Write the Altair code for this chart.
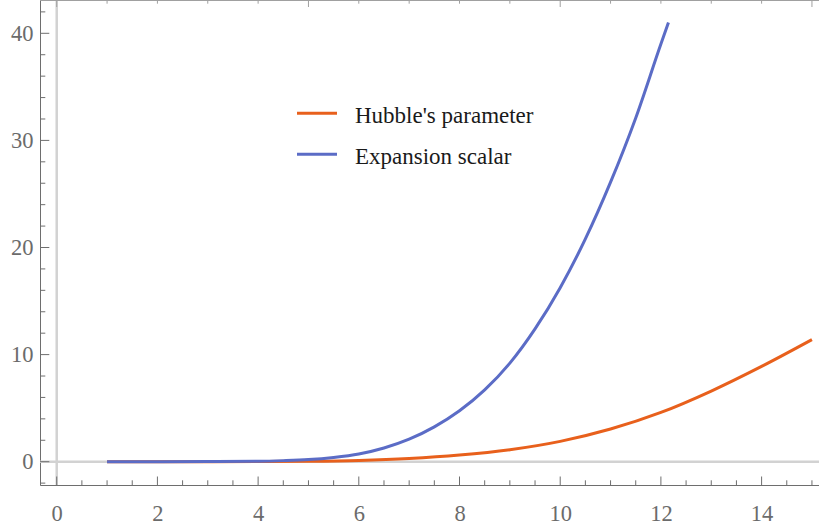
import altair as alt
import pandas as pd

# ---- series data -----------------------------------------------------------
series_names = ["Hubble's parameter", "Expansion scalar"]
series_colors = ["#e8601c", "#5b6cc6"]

hubble_t = [1, 2, 3, 4, 5, 6, 7, 8, 9, 10, 11, 12, 13, 14, 15]
hubble_v = [0, 0, 0.0, 0.01, 0.04, 0.12, 0.3, 0.62, 1.12, 1.9, 3.05, 4.6, 6.6, 8.9, 11.4]

expansion_t = [1, 2, 3, 4, 4.5, 5, 5.5, 6, 6.5, 7, 7.5, 8, 8.5, 9, 9.5, 10,
               10.5, 11, 11.5, 12, 12.15]
expansion_v = [0, 0, 0.01, 0.04, 0.1, 0.2, 0.4, 0.72, 1.28, 2.1, 3.25, 4.75,
               6.7, 9.2, 12.4, 16.25, 20.8, 26.1, 32.1, 39.0, 41.0]

# tick positions
x_labels = [0, 2, 4, 6, 8, 10, 12, 14]
x_minor = [v / 2 for v in range(0, 31) if v % 4 != 0]
y_labels = [0, 10, 20, 30, 40]
y_minor = [v for v in range(-2, 43, 2) if v % 10 != 0]
top_major = [0, 5, 10, 15]
top_minor = [v for v in range(0, 16) if v % 5 != 0]

# ---- layout ----------------------------------------------------------------
W, H = 779, 485
X_DOM = [-0.332, 15.14]
Y_DOM = [-2.176, 43.11]

FRAME = "#6e6e6e"
TOP_FRAME = "#a0a0a0"
ZERO = "#d2d2d2"
LABEL = "#6b6b6b"
SERIF = "Liberation Serif"

x_scale = alt.Scale(domain=X_DOM, nice=False, zero=False)
y_scale = alt.Scale(domain=Y_DOM, nice=False, zero=False)

x_axis = alt.Axis(values=x_labels, ticks=False, tickSize=0, grid=False, title=None,
                  domainColor=FRAME, domainWidth=1, labelFont=SERIF, labelFontSize=22.5,
                  labelColor=LABEL, labelPadding=17, labelFlush=False)
y_axis = alt.Axis(values=y_labels, ticks=False, tickSize=0, grid=False, title=None,
                  domainColor=FRAME, domainWidth=1, labelFont=SERIF, labelFontSize=22.5,
                  labelColor=LABEL, labelPadding=7, labelFlush=False)

X = alt.X("t:Q", scale=x_scale, axis=x_axis)
Y = alt.Y("v:Q", scale=y_scale, axis=y_axis)

hubble = pd.DataFrame({"t": hubble_t, "v": hubble_v})
expansion = pd.DataFrame({"t": expansion_t, "v": expansion_v})

# zero lines of the coordinate axes
zero_x = alt.Chart(pd.DataFrame({"t": [0]})).mark_rule(color=ZERO, strokeWidth=2.5).encode(x=X)
zero_y = alt.Chart(pd.DataFrame({"v": [0]})).mark_rule(color=ZERO, strokeWidth=2.5).encode(y=Y)

# curves
hub_line = alt.Chart(hubble).mark_line(
    color=series_colors[0], strokeWidth=3, interpolate="monotone", clip=True
).encode(x=X, y=Y)
exp_line = alt.Chart(expansion).mark_line(
    color=series_colors[1], strokeWidth=3, interpolate="monotone", clip=True
).encode(x=X, y=Y)

# inward frame ticks
def x_ticks(vals, y0, y1, color):
    return alt.Chart(pd.DataFrame({"t": vals})).mark_rule(color=color, strokeWidth=1).encode(
        x=X, y=alt.value(y0), y2=alt.value(y1))

def y_ticks(vals, length):
    return alt.Chart(pd.DataFrame({"v": vals})).mark_rule(color=FRAME, strokeWidth=1).encode(
        y=Y, x=alt.value(0), x2=alt.value(length))

bottom_major = x_ticks(x_labels, H, H - 8.5, FRAME)
bottom_minor = x_ticks(x_minor, H, H - 4.7, FRAME)
left_major = y_ticks(y_labels, 9.3)
left_minor = y_ticks(y_minor, 5.3)
top_major_t = x_ticks(top_major, 0, 7, TOP_FRAME)
top_minor_t = x_ticks(top_minor, 0, 3.7, TOP_FRAME)

top_frame = alt.Chart(pd.DataFrame({"t": [0]})).mark_rule(color=TOP_FRAME, strokeWidth=1).encode(
    x=alt.value(0), x2=alt.value(W), y=alt.value(0.5))

# legend entries
legend_layers = []
for i, (name, col) in enumerate(zip(series_names, series_colors)):
    row_y = 113.3 + 41 * i
    legend_layers.append(
        alt.Chart(pd.DataFrame({"label": [name]})).mark_rule(color=col, strokeWidth=3).encode(
            x=alt.value(257), x2=alt.value(297), y=alt.value(row_y)))
    legend_layers.append(
        alt.Chart(pd.DataFrame({"label": [name]})).mark_text(
            font=SERIF, fontSize=23, color="#1a1a1a", align="left", baseline="alphabetic"
        ).encode(text="label:N", x=alt.value(315), y=alt.value(row_y + 10)))

chart = alt.layer(
    zero_x, zero_y, hub_line, exp_line,
    bottom_major, bottom_minor, left_major, left_minor,
    top_frame, top_major_t, top_minor_t,
    *legend_layers,
).properties(
    width=W, height=H,
    autosize=alt.AutoSizeParams(type="none"),
    padding={"left": 40, "top": 0, "right": 0, "bottom": 46},
).configure_view(stroke=None).configure(background="white")

chart.save("out.html", embed_options={"renderer": "svg", "actions": False})
